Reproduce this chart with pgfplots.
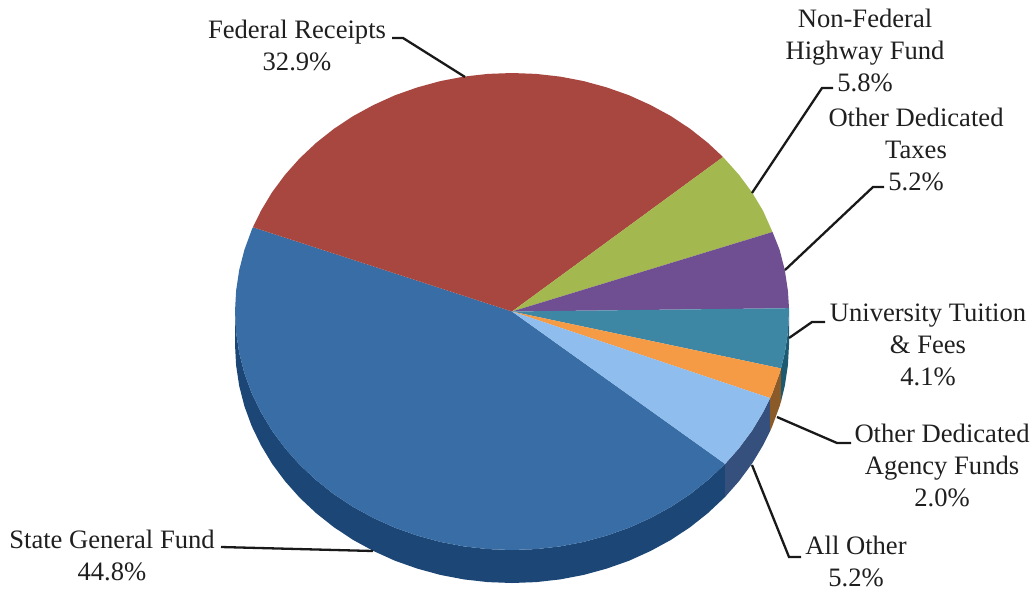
\documentclass[border=0pt]{standalone}
\usepackage{fontspec}
\setmainfont{Liberation Serif}
\usepackage{pgfplots}
\pgfplotsset{compat=1.18}

\definecolor{cblue}{HTML}{386DA5}
\definecolor{cred}{HTML}{A8473F}
\definecolor{cgreen}{HTML}{A3B84F}
\definecolor{cpurple}{HTML}{6F4E92}
\definecolor{cteal}{HTML}{3D86A4}
\definecolor{corange}{HTML}{F59A45}
\definecolor{clight}{HTML}{8FBDEE}
\definecolor{sblue}{HTML}{1B4676}
\definecolor{slight}{HTML}{35507C}
\definecolor{sorange}{HTML}{8A5A28}
\definecolor{steal}{HTML}{1C5A72}

\tikzset{
  lbl/.style={font=\fontsize{13.3}{16}\selectfont, align=center, inner sep=0pt, text=black!88},
}
\pgfplotsset{
  leader/.style={line width=1.15pt, black!90, no markers, forget plot},
}

\begin{document}
\begin{tikzpicture}
\begin{axis}[
    scale only axis,
    width=518pt,
    height=294.5pt,
    xmin=0, xmax=1036,
    ymin=0, ymax=589,
    y dir=reverse,
    axis lines=none,
    clip=false,
  ]

  % keep the whole canvas in the page
  \path (axis cs:0,0) rectangle (axis cs:1036,589);

  % side wall, offset 33 px below the rim
  \addplot[fill=sblue, draw=none, forget plot] coordinates {
    (235,311.5) (236.1,332.3) (239.2,352.9) (244.4,373.2) (251.7,393.1) (261,412.3)
    (272.1,430.8) (285.1,448.3) (299.8,464.8) (316.1,480.1) (333.9,494.2) (353.1,506.9)
    (373.5,518) (394.9,527.7) (417.3,535.6) (440.3,541.9) (463.9,546.4) (487.9,549.1)
    (512,550) (536.1,549.1) (560.1,546.4) (583.7,541.9) (606.7,535.6) (629.1,527.7)
    (650.5,518) (670.9,506.9) (690.1,494.2) (707.9,480.1) (725.1,463.9)
    (725.1,496.9) (707.9,513.1) (690.1,527.2) (670.9,539.9) (650.5,551) (629.1,560.7)
    (606.7,568.6) (583.7,574.9) (560.1,579.4) (536.1,582.1) (512,583) (487.9,582.1)
    (463.9,579.4) (440.3,574.9) (417.3,568.6) (394.9,560.7) (373.5,551) (353.1,539.9)
    (333.9,527.2) (316.1,513.1) (299.8,497.8) (285.1,481.3) (272.1,463.8) (261,445.3)
    (251.7,426.1) (244.4,406.2) (239.2,385.9) (236.1,365.3) (235,344.5)
  } --cycle;
  \addplot[fill=slight, draw=none, forget plot] coordinates {
    (725.1,463.9) (738.9,448.3) (751.9,430.8) (763,412.3) (770.1,398.1)
    (770.1,431.1) (763,445.3) (751.9,463.8) (738.9,481.3) (725.1,496.9)
  } --cycle;
  \addplot[fill=sorange, draw=none, forget plot] coordinates {
    (770.1,398.1) (772.3,393.1) (779.6,373.2) (781,368.4)
    (781,401.4) (779.6,406.2) (772.3,426.1) (770.1,431.1)
  } --cycle;
  \addplot[fill=steal, draw=none, forget plot] coordinates {
    (781,368.4) (784.8,352.9) (787.9,332.3) (789,311.5)
    (789,344.5) (787.9,365.3) (784.8,385.9) (781,401.4)
  } --cycle;

  % top face
  % State General Fund 44.8
  \addplot[fill=cblue, draw=none, forget plot] coordinates {
    (512,311.5) (252.9,227.2) (251.7,229.9) (244.4,249.8) (239.2,270.1) (236.1,290.7) (235,311.5)
    (236.1,332.3) (239.2,352.9) (244.4,373.2) (251.7,393.1) (261,412.3) (272.1,430.8)
    (285.1,448.3) (299.8,464.8) (316.1,480.1) (333.9,494.2) (353.1,506.9) (373.5,518)
    (394.9,527.7) (417.3,535.6) (440.3,541.9) (463.9,546.4) (487.9,549.1) (512,550)
    (536.1,549.1) (560.1,546.4) (583.7,541.9) (606.7,535.6) (629.1,527.7) (650.5,518)
    (670.9,506.9) (690.1,494.2) (707.9,480.1) (725.1,463.9)
  } --cycle;
  % Federal Receipts 32.9
  \addplot[fill=cred, draw=none, forget plot] coordinates {
    (512,311.5) (723,157) (707.9,142.9) (690.1,128.8) (670.9,116.1) (650.5,105) (629.1,95.3)
    (606.7,87.4) (583.7,81.1) (560.1,76.6) (536.1,73.9) (512,73) (487.9,73.9) (463.9,76.6)
    (440.3,81.1) (417.3,87.4) (394.9,95.3) (373.5,105) (353.1,116.1) (333.9,128.8)
    (316.1,142.9) (299.8,158.2) (285.1,174.7) (272.1,192.2) (261,210.7) (252.9,227.2)
  } --cycle;
  % Non-Federal Highway Fund 5.8
  \addplot[fill=cgreen, draw=none, forget plot] coordinates {
    (512,311.5) (772.5,232) (763,210.7) (751.9,192.2) (738.9,174.7) (723,157)
  } --cycle;
  % Other Dedicated Taxes 5.2
  \addplot[fill=cpurple, draw=none, forget plot] coordinates {
    (512,311.5) (789,308.2) (787.9,290.7) (784.8,270.1) (779.6,249.8) (772.5,232)
  } --cycle;
  % University Tuition & Fees 4.1
  \addplot[fill=cteal, draw=none, forget plot] coordinates {
    (512,311.5) (781,368.4) (784.8,352.9) (787.9,332.3) (789,311.5) (789,308.2)
  } --cycle;
  % Other Dedicated Agency Funds 2.0
  \addplot[fill=corange, draw=none, forget plot] coordinates {
    (512,311.5) (770.1,398.1) (772.3,393.1) (779.6,373.2) (781,368.4)
  } --cycle;
  % All Other 5.2
  \addplot[fill=clight, draw=none, forget plot] coordinates {
    (512,311.5) (725.1,463.9) (738.9,448.3) (751.9,430.8) (763,412.3) (770.1,398.1)
  } --cycle;

  % leader lines
  \addplot[leader] coordinates {(392,38) (403,38) (465,77)};
  \addplot[leader] coordinates {(833,88) (822,88) (752,193)};
  \addplot[leader] coordinates {(884,187) (873,187) (785,270)};
  \addplot[leader] coordinates {(825,322) (812,322) (789,338)};
  \addplot[leader] coordinates {(851,443) (837,443) (777,417)};
  \addplot[leader] coordinates {(801,557) (789,557) (752,465)};
  \addplot[leader] coordinates {(221,547) (373,551)};

  \node[lbl] at (axis cs:297,45) {Federal Receipts\\32.9\%};
  \node[lbl] at (axis cs:865,50) {Non-Federal\\Highway Fund\\5.8\%};
  \node[lbl] at (axis cs:916,149) {Other Dedicated\\Taxes\\5.2\%};
  \node[lbl] at (axis cs:928,345) {University Tuition\\\& Fees\\4.1\%};
  \node[lbl] at (axis cs:942,465) {Other Dedicated\\Agency Funds\\2.0\%};
  \node[lbl] at (axis cs:856,561) {All Other\\5.2\%};
  \node[lbl] at (axis cs:112,555) {State General Fund\\44.8\%};
\end{axis}
\end{tikzpicture}
\end{document}
